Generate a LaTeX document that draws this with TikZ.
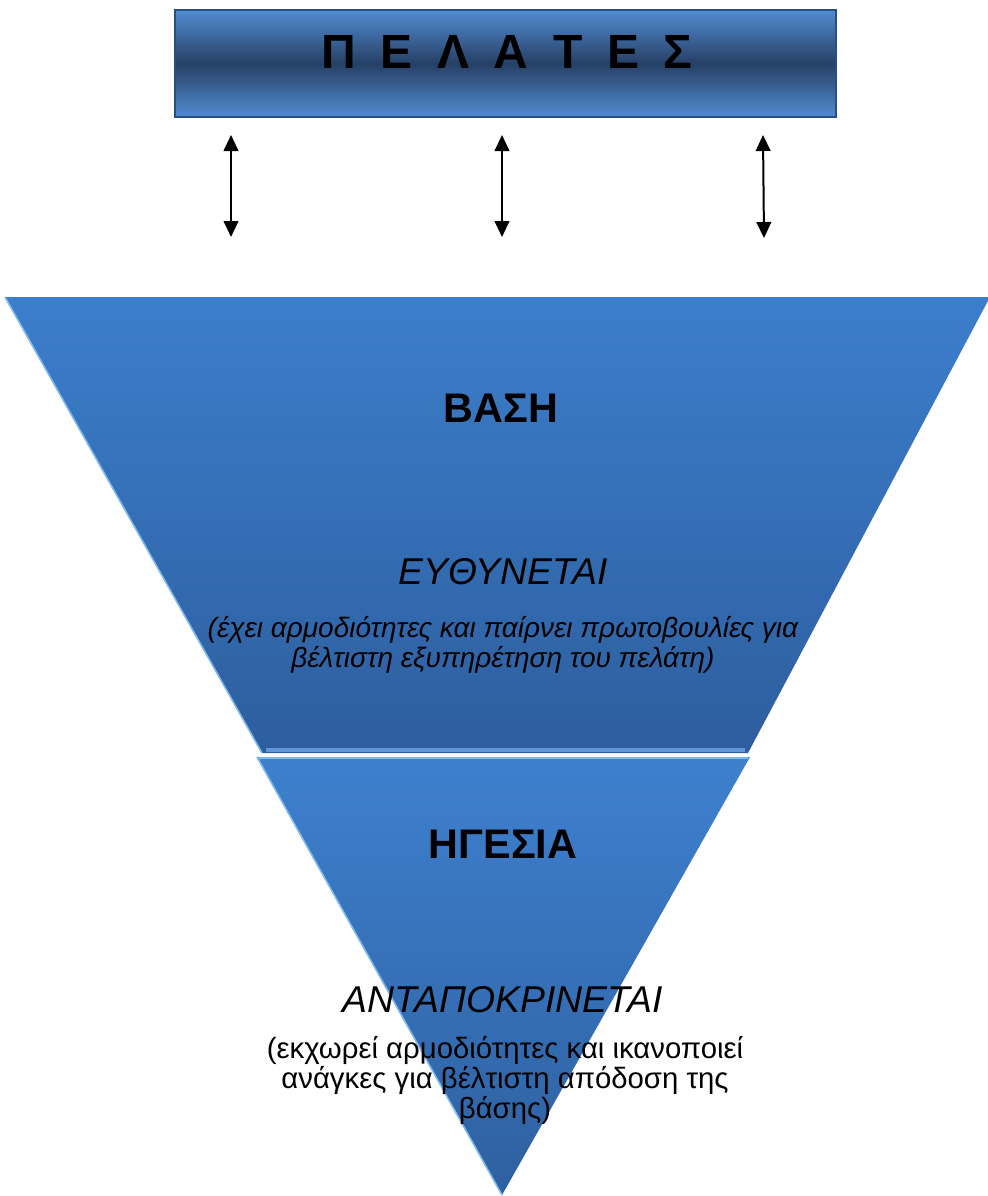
\documentclass[tikz,border=0pt]{standalone}
\usepackage{fontspec}
\setmainfont{Liberation Sans}
\newfontfamily\spacedfont[WordSpace=1.85]{Liberation Sans}
\usetikzlibrary{arrows.meta,positioning,calc}
\definecolor{barlight}{RGB}{82,140,210}
\definecolor{bardark}{RGB}{38,64,102}
\definecolor{baredge}{RGB}{40,78,135}
\definecolor{cuptop}{RGB}{60,126,204}
\definecolor{cupbot}{RGB}{45,94,158}
\definecolor{tiptop}{RGB}{62,128,206}
\definecolor{tipbot}{RGB}{46,96,160}
\definecolor{glint}{RGB}{125,185,240}
\definecolor{ledge}{RGB}{95,150,215}
\tikzset{
    line/.style    = {{Triangle[length=12pt,width=11pt]}-{Triangle[length=12pt,width=11pt]},
            line width=1.5pt, draw=black},
    titlebox/.style = {draw=baredge, line width=1pt,
            top color=barlight, bottom color=barlight, middle color=bardark,
            minimum width=495.75pt, minimum height=80.25pt, inner sep=0pt},
    titletext/.style = {font=\spacedfont\fontsize{36}{40}\selectfont\bfseries, anchor=base},
    heading/.style = {font=\fontsize{31}{36}\selectfont\bfseries, anchor=base},
    motto/.style   = {font=\fontsize{28}{32}\selectfont\itshape, anchor=base},
    note/.style    = {align=center, anchor=base, inner sep=0pt},
    glow/.style    = {draw=glint, line width=1.2pt},
}

\begin{document}
\begin{tikzpicture}[x=0.75pt, y=-0.75pt]
    \useasboundingbox (0,0) rectangle (988,1196);
    % Shapes
    \shade[top color=cuptop, bottom color=cupbot] (5,297) -- (990,297) -- (748,753) -- (262,753) -- cycle;
    \shade[top color=tiptop, bottom color=tipbot] (257,757) -- (750,757) -- (502,1195) -- cycle;
    \draw[draw=ledge, line width=3pt] (266,750) -- (745,750);
    \draw[glow, line width=1.8pt] (259,758) -- (748,758);
    \draw[glow] (5,297) -- (262,753);
    \draw[glow] (257,757) -- (502,1195);
    % Nodes
    \node[titlebox] (clients) at (505.5,63.5) {};
    \node[titletext] (clientsText) at (507,68) {Π Ε Λ Α Τ Ε Σ};
    \node[heading] (base) at (501,422) {ΒΑΣΗ};
    \node[motto] (baseRole) at (503,584) {ΕΥΘΥΝΕΤΑΙ};
    \node[note, font=\fontsize{21}{22.5}\selectfont\itshape] (baseNote) at (503,667)
        {(έχει αρμοδιότητες και παίρνει πρωτοβουλίες για\\βέλτιστη εξυπηρέτηση του πελάτη)};
    \node[heading] (lead) at (503,858) {ΗΓΕΣΙΑ};
    \node[motto] (leadRole) at (503,1012) {ΑΝΤΑΠΟΚΡΙΝΕΤΑΙ};
    \node[note, font=\fontsize{22}{20.6}\selectfont] (leadNote) at (505,1118)
        {(εκχωρεί αρμοδιότητες και ικανοποιεί\\ανάγκες για βέλτιστη απόδοση της\\βάσης)};
    % Arrows
    \coordinate (l1) at (231,135);
    \coordinate (l2) at (231,237);
    \coordinate (m1) at (502,135);
    \coordinate (m2) at (502,237);
    \coordinate (r1) at (763,135);
    \coordinate (r2) at (764,238);
    \draw[line] (l1) -- (l2);
    \draw[line] (m1) -- (m2);
    \draw[line] (r1) -- (r2);
\end{tikzpicture}
\end{document}
